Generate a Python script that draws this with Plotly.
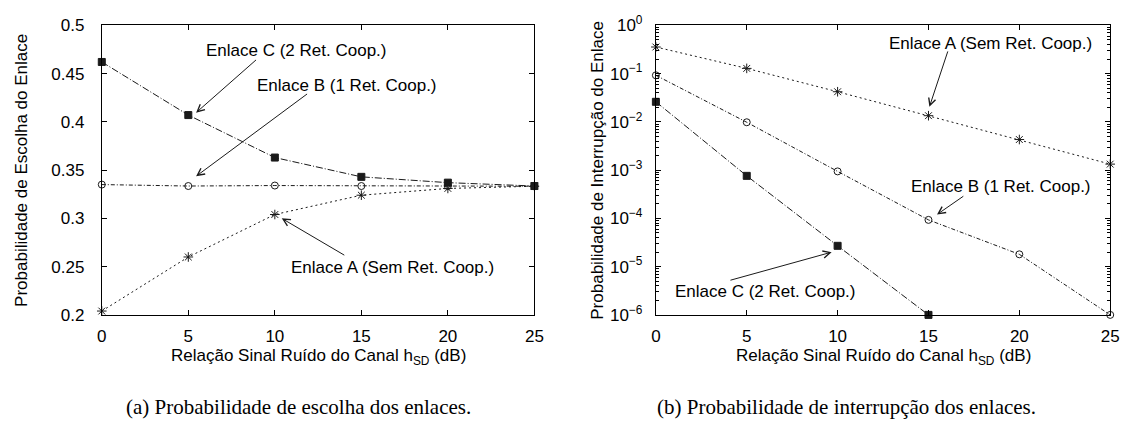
import plotly.graph_objects as go

# ---------------- data ----------------
snr = [0, 5, 10, 15, 20, 25]
snr_c_out = [0, 5, 10, 15]

choice_A = [0.204, 0.260, 0.304, 0.324, 0.331, 0.3333]
choice_B = [0.335, 0.3335, 0.334, 0.3335, 0.3335, 0.3333]
choice_C = [0.462, 0.407, 0.363, 0.343, 0.337, 0.3335]

outage_A = [0.355, 0.128, 0.042, 0.0134, 0.0043, 0.00133]
outage_B = [0.092, 0.0098, 0.00094, 9.3e-5, 1.8e-5, 1.0e-6]
outage_C = [0.026, 0.00076, 2.7e-5, 1.0e-6]

log_tick_vals = [1, 1e-1, 1e-2, 1e-3, 1e-4, 1e-5, 1e-6]
log_tick_text = ["10<sup>0</sup>", "10<sup>−1</sup>", "10<sup>−2</sup>", "10<sup>−3</sup>",
                 "10<sup>−4</sup>", "10<sup>−5</sup>", "10<sup>−6</sup>"]

label_A = "Enlace A (Sem Ret. Coop.)"
label_B = "Enlace B (1 Ret. Coop.)"
label_C = "Enlace C (2 Ret. Coop.)"
ytitle_left = "Probabilidade de Escolha do Enlace"
ytitle_right = "Probabilidade de Interrupção do Enlace"
xtitle = "Relação Sinal Ruído do Canal h<sub>SD</sub> (dB)"
caption_a = "(a) Probabilidade de escolha dos enlaces."
caption_b = "(b) Probabilidade de interrupção dos enlaces."

W, H = 1136, 436
FONT = "Liberation Sans, Arial, sans-serif"
SERIF = "Liberation Serif, Times New Roman, serif"
LC = "#1a1a1a"
FS = 17

def px(x):
    return x / W

def py(y):
    return 1 - y / H

# panel geometry (pixels)
L1, R1 = 98, 536
L2, R2 = 659, 1119
TOP, BOT = 14, 319

styles = {
    "A": dict(dash="2px,3px", symbol="asterisk-open", size=8),
    "B": dict(dash="4px,2px,1px,2px", symbol="circle-open", size=7),
    "C": dict(dash="7px,2px,1px,2px", symbol="square", size=7),
}

fig = go.Figure()

def add(xs, ys, key, xa, ya):
    s = styles[key]
    fig.add_trace(go.Scatter(
        x=xs, y=ys, mode="lines+markers", xaxis=xa, yaxis=ya,
        line=dict(color=LC, width=1, dash=s["dash"]),
        marker=dict(symbol=s["symbol"], size=s["size"], color=LC,
                    line=dict(color=LC, width=1)),
        cliponaxis=False, showlegend=False, hoverinfo="skip"))

add(snr, choice_A, "A", "x", "y")
add(snr, choice_B, "B", "x", "y")
add(snr, choice_C, "C", "x", "y")
add(snr, outage_A, "A", "x2", "y2")
add(snr, outage_B, "B", "x2", "y2")
add(snr_c_out, outage_C, "C", "x2", "y2")

axis_common = dict(
    showline=True, linecolor="black", linewidth=1, mirror="allticks",
    ticks="inside", ticklen=5, tickwidth=1, tickcolor="black",
    showgrid=False, zeroline=False, ticklabeloverflow="allow",
    tickfont=dict(family=FONT, size=FS, color="black"),
)

minor_vals = [m * 10.0 ** e for e in range(-6, 0) for m in range(2, 10)]

fig.update_layout(
    width=W, height=H, margin=dict(l=0, r=0, t=0, b=0),
    paper_bgcolor="white", plot_bgcolor="white",
    font=dict(family=FONT, color="black"),
    xaxis=dict(domain=[px(L1), px(R1)], range=[0, 25], dtick=5, anchor="y",
               ticklabelstandoff=6, **axis_common),
    yaxis=dict(domain=[py(BOT), py(TOP)], range=[0.2, 0.5], dtick=0.05,
               anchor="x", ticklabelstandoff=13, **axis_common),
    xaxis2=dict(domain=[px(L2), px(R2)], range=[0, 25], dtick=5, anchor="y2",
                ticklabelstandoff=6, **axis_common),
    yaxis2=dict(domain=[py(BOT), py(TOP)], type="log", range=[-6, 0],
                tickmode="array", tickvals=log_tick_vals, ticktext=log_tick_text,
                anchor="x2", ticklabelstandoff=9,
                minor=dict(ticks="inside", ticklen=3, tickcolor="black",
                           tickmode="array", tickvals=minor_vals, showgrid=False),
                **axis_common),
)

ann = []
def text_ann(x, y, t, xref, yref, size=FS):
    ann.append(dict(x=x, y=y, xref=xref, yref=yref, text=t, showarrow=False,
                    font=dict(family=FONT, size=size, color="black"),
                    xanchor="center", yanchor="middle"))

def arrow(x0, y0, x1, y1, xref, yref):
    ann.append(dict(x=x1, y=y1, ax=x0, ay=y0, xref=xref, yref=yref,
                    axref=xref, ayref=yref, text="", showarrow=True,
                    arrowhead=5, arrowsize=1.4, arrowwidth=1, arrowcolor=LC))

# left panel labels
text_ann(11.2, 0.4734, label_C, "x", "y")
arrow(9.0, 0.4655, 5.45, 0.4095, "x", "y")
text_ann(14.15, 0.438, label_B, "x", "y")
arrow(11.95, 0.430, 5.45, 0.3436, "x", "y")
text_ann(16.8, 0.249, label_A, "x", "y")
arrow(14.1, 0.261, 10.4, 0.300, "x", "y")

# right panel labels (log axis -> exponent coordinates)
text_ann(18.4, -0.368, label_A, "x2", "y2")
arrow(16.09, -0.51, 15.05, -1.69, "x2", "y2")
text_ann(19.0, -3.33, label_B, "x2", "y2")
arrow(17.0, -3.52, 15.47, -3.92, "x2", "y2")
text_ann(6.03, -5.51, label_C, "x2", "y2")
arrow(4.02, -5.29, 9.67, -4.70, "x2", "y2")

mid = (TOP + BOT) / 2
def paper_text(x, y, t, size=FS, family=FONT, angle=0):
    ann.append(dict(x=px(x), y=py(y), xref="paper", yref="paper", text=t,
                    textangle=angle, showarrow=False,
                    font=dict(family=family, size=size, color="black"),
                    xanchor="center", yanchor="middle"))

paper_text(16, mid, ytitle_left, angle=-90)
paper_text(599, mid, ytitle_right, angle=-90)
paper_text((L1 + R1) / 2, 363, xtitle)
paper_text((L2 + R2) / 2, 363, xtitle)
paper_text(297, 416, caption_a, size=21, family=SERIF)
paper_text(852, 416, caption_b, size=21, family=SERIF)

fig.update_layout(annotations=ann)
fig.write_html("out.html")
